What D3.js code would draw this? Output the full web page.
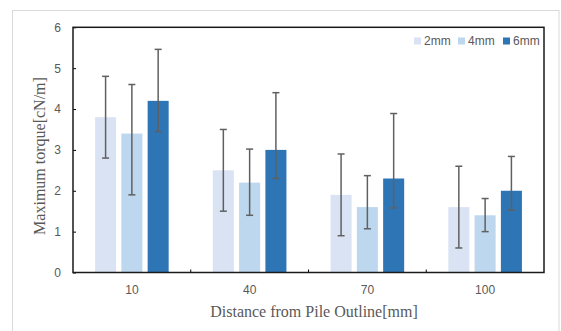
<!DOCTYPE html>
<html>
<head>
<meta charset="utf-8">
<script src="https://cdn.jsdelivr.net/npm/d3@7"></script>
<style>
  html, body { margin: 0; padding: 0; background: #fff; }
  svg { display: block; }
</style>
</head>
<body>
<div id="chart"></div>
<script>
// ── Data ──────────────────────────────────────────────────────────────────
const categories = ["10", "40", "70", "100"];
const seriesNames = ["2mm", "4mm", "6mm"];
const seriesColors = ["#DAE3F3", "#BDD7EE", "#2E75B6"];

// mean values per series, one entry per category
const values2mm = [3.8, 2.5, 1.9, 1.6];
const values4mm = [3.4, 2.2, 1.6, 1.4];
const values6mm = [4.2, 3.0, 2.3, 2.0];

// error bar ends (custom, asymmetric)
const low2mm = [2.8, 1.5, 0.9, 0.6];
const high2mm = [4.8, 3.5, 2.9, 2.6];
const low4mm = [1.9, 1.4, 1.07, 1.0];
const high4mm = [4.6, 3.02, 2.37, 1.81];
const low6mm = [3.45, 2.3, 1.58, 1.53];
const high6mm = [5.46, 4.4, 3.89, 2.84];

const yTicks = [0, 1, 2, 3, 4, 5, 6];

const xTitle = "Distance from Pile Outline[mm]";
const yTitle = "Maximum torque[cN/m]";

// ── Layout ────────────────────────────────────────────────────────────────
const W = 561, H = 331;
const plot = { left: 73, right: 544, top: 27.3, bottom: 272.5 };
const textGray = "#595959";
const sansFont = "'Liberation Sans', Arial, sans-serif";
const serifFont = "'Liberation Serif', 'Times New Roman', serif";

const rows = [];
const valuesBySeries = [values2mm, values4mm, values6mm];
const lowBySeries = [low2mm, low4mm, low6mm];
const highBySeries = [high2mm, high4mm, high6mm];
categories.forEach((cat, ci) => {
  seriesNames.forEach((s, si) => {
    rows.push({
      cat, series: s, si,
      value: valuesBySeries[si][ci],
      low: lowBySeries[si][ci],
      high: highBySeries[si][ci],
    });
  });
});

const svg = d3.select("#chart")
  .append("svg")
  .attr("width", W)
  .attr("height", H);

// outer chart border
svg.append("rect")
  .attr("x", 12.5).attr("y", 10.5)
  .attr("width", 546.5).attr("height", 330)
  .attr("fill", "#fff")
  .attr("stroke", "#D9D9D9")
  .attr("stroke-width", 1);

// ── Scales
const x0 = d3.scaleBand()
  .domain(categories)
  .range([plot.left, plot.right])
  .padding(0);

const groupWidth = 73.6;
const x1 = d3.scaleBand()
  .domain(seriesNames)
  .range([0, groupWidth])
  .paddingInner(0.2)
  .paddingOuter(0);

const groupOffset = (x0.bandwidth() - groupWidth) / 2;

const y = d3.scaleLinear()
  .domain([0, 6])
  .range([plot.bottom, plot.top]);

const color = d3.scaleOrdinal().domain(seriesNames).range(seriesColors);

// ── Bars
const barX = (d) => x0(d.cat) + groupOffset + x1(d.series);

svg.append("g")
  .attr("class", "bars")
  .selectAll("rect")
  .data(rows)
  .join("rect")
  .attr("x", barX)
  .attr("y", (d) => y(d.value))
  .attr("width", x1.bandwidth())
  .attr("height", (d) => y(0) - y(d.value))
  .attr("fill", (d) => color(d.series));

// ── Error bars
const capHalf = 3.5;
const err = svg.append("g")
  .attr("class", "errors")
  .attr("stroke", "#606060")
  .attr("stroke-width", 1.5)
  .selectAll("g")
  .data(rows)
  .join("g");

err.append("line")
  .attr("x1", (d) => barX(d) + x1.bandwidth() / 2)
  .attr("x2", (d) => barX(d) + x1.bandwidth() / 2)
  .attr("y1", (d) => y(d.low))
  .attr("y2", (d) => y(d.high));

err.selectAll("line.cap")
  .data((d) => [d.low, d.high].map((v) => ({ v, cx: barX(d) + x1.bandwidth() / 2 })))
  .join("line")
  .attr("class", "cap")
  .attr("x1", (c) => c.cx - capHalf)
  .attr("x2", (c) => c.cx + capHalf)
  .attr("y1", (c) => y(c.v))
  .attr("y2", (c) => y(c.v));

// ── Axes
const yAxis = d3.axisLeft(y)
  .tickValues(yTicks)
  .tickFormat(d3.format("d"))
  .tickSizeInner(-3)
  .tickSizeOuter(0)
  .tickPadding(12);

const gy = svg.append("g")
  .attr("transform", `translate(${plot.left},0)`)
  .call(yAxis);
gy.select(".domain").remove();
gy.selectAll(".tick line").attr("stroke", "#000").attr("stroke-width", 1);
gy.selectAll(".tick text")
  .attr("fill", textGray)
  .attr("font-family", sansFont)
  .attr("font-size", 12);

const xAxis = d3.axisBottom(x0)
  .tickSize(0)
  .tickPadding(13);

const gx = svg.append("g")
  .attr("transform", `translate(0,${plot.bottom})`)
  .call(xAxis);
gx.select(".domain").remove();
gx.selectAll(".tick text")
  .attr("fill", textGray)
  .attr("font-family", sansFont)
  .attr("font-size", 12);

// small inward ticks at category boundaries
svg.append("g")
  .selectAll("line")
  .data(categories.slice(1))
  .join("line")
  .attr("x1", (c) => x0(c))
  .attr("x2", (c) => x0(c))
  .attr("y1", plot.bottom)
  .attr("y2", plot.bottom - 3)
  .attr("stroke", "#000")
  .attr("stroke-width", 1);

// plot frame
svg.append("rect")
  .attr("x", plot.left)
  .attr("y", plot.top)
  .attr("width", plot.right - plot.left)
  .attr("height", plot.bottom - plot.top)
  .attr("fill", "none")
  .attr("stroke", "#1a1a1a")
  .attr("stroke-width", 1.5);

// ── Axis titles
svg.append("text")
  .attr("x", 314)
  .attr("y", 316.5)
  .attr("text-anchor", "middle")
  .attr("font-family", serifFont)
  .attr("font-size", 16)
  .attr("fill", textGray)
  .text(xTitle);

svg.append("text")
  .attr("transform", "translate(45,156) rotate(-90)")
  .attr("text-anchor", "middle")
  .attr("font-family", serifFont)
  .attr("font-size", 16)
  .attr("fill", textGray)
  .text(yTitle);

// ── Legend
const legendX = [414, 458, 503];
const legend = svg.append("g")
  .attr("class", "legend")
  .selectAll("g")
  .data(seriesNames)
  .join("g")
  .attr("transform", (d, i) => `translate(${legendX[i]},41)`);

legend.append("rect")
  .attr("x", 0).attr("y", -3.5)
  .attr("width", 7).attr("height", 7)
  .attr("fill", (d) => color(d));

legend.append("text")
  .attr("x", 10)
  .attr("y", 4.3)
  .attr("font-family", sansFont)
  .attr("font-size", 12)
  .attr("fill", textGray)
  .text((d) => d);
</script>
</body>
</html>
